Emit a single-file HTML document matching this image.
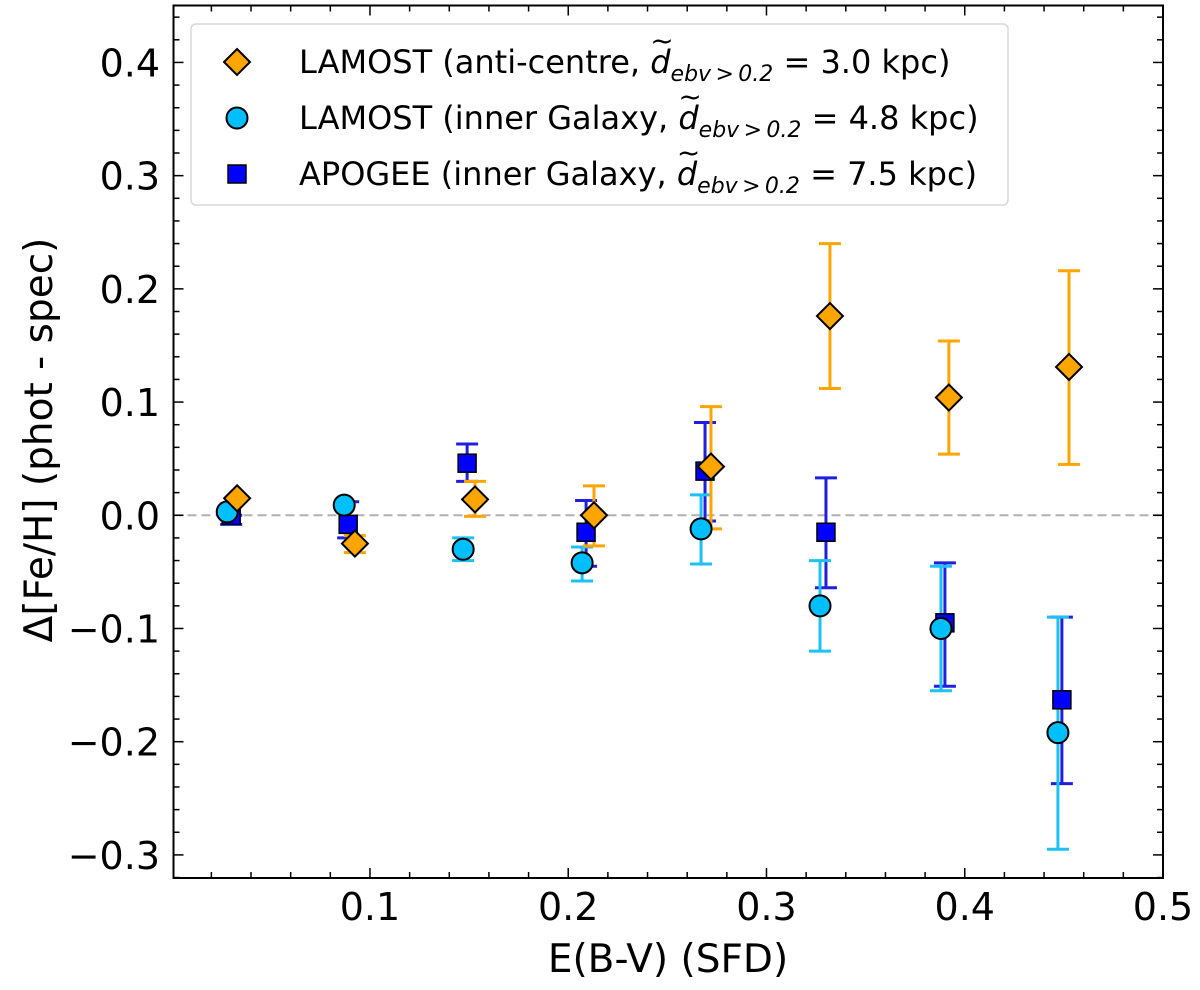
<!DOCTYPE html>
<html><head><meta charset="utf-8"><style>
body{margin:0;background:#fff;}
svg text{font-family:"DejaVu Sans","Liberation Sans",sans-serif;fill:#000;}
</style></head><body>
<svg id="chart" width="1200" height="985" xmlns="http://www.w3.org/2000/svg">
<g id="grid"></g>
<g id="marks"></g>
<g id="axes"></g>
<g id="legend"></g>
</svg>
<script>
const xTicks=[0.1,0.2,0.3,0.4,0.5];
const yTicks=[0.4,0.3,0.2,0.1,0.0,-0.1,-0.2,-0.3];
const yTickLabels=["0.4","0.3","0.2","0.1","0.0","\u22120.1","\u22120.2","\u22120.3"];
// LAMOST anti-centre
const acX=[0.033,0.0924,0.153,0.213,0.272,0.332,0.392,0.4526];
const acY=[0.015,-0.025,0.014,0.0,0.043,0.176,0.104,0.131];
const acLo=[0.015,-0.033,-0.001,-0.027,-0.012,0.112,0.054,0.045];
const acHi=[0.015,-0.018,0.030,0.026,0.096,0.240,0.154,0.216];
// LAMOST inner galaxy
const inX=[0.028,0.087,0.147,0.207,0.267,0.327,0.388,0.447];
const inY=[0.003,0.009,-0.030,-0.042,-0.012,-0.080,-0.100,-0.192];
const inLo=[0.003,0.009,-0.040,-0.058,-0.043,-0.120,-0.155,-0.295];
const inHi=[0.003,0.009,-0.020,-0.028,0.018,-0.040,-0.045,-0.090];
// APOGEE inner galaxy
const apX=[0.030,0.089,0.149,0.209,0.269,0.330,0.390,0.449];
const apY=[0.000,-0.008,0.046,-0.015,0.039,-0.015,-0.095,-0.163];
const apLo=[-0.008,-0.020,0.030,-0.045,-0.005,-0.064,-0.151,-0.237];
const apHi=[0.000,0.012,0.063,0.013,0.082,0.033,-0.042,-0.090];

const L=173.5,R=1163,T=5.5,B=878;
const xmin=0.0009,xmax=0.5,ymin=-0.3204,ymax=0.4503;
const sx=v=>L+(v-xmin)/(xmax-xmin)*(R-L);
const sy=v=>B-(v-ymin)/(ymax-ymin)*(B-T);
const NS="http://www.w3.org/2000/svg";
function mk(tag,attrs,parent){const e=document.createElementNS(NS,tag);for(const k in attrs)e.setAttribute(k,attrs[k]);parent.appendChild(e);return e;}
const axes=document.getElementById('axes'),marks=document.getElementById('marks'),grid=document.getElementById('grid');

const zl=mk('line',{x1:L,x2:R,y1:sy(0),y2:sy(0),stroke:'#b0b0b0','stroke-width':2,'stroke-dasharray':'9,5'},grid);



for(let i=1;i<25;i++){const v=i*0.02;const x=sx(v);const major=i%5===0;const len=major?10:6;
 mk('line',{x1:x,x2:x,y1:B,y2:B-len,stroke:'#000','stroke-width':1.5},axes);
 mk('line',{x1:x,x2:x,y1:T,y2:T+len,stroke:'#000','stroke-width':1.5},axes);}
for(let i=-16;i<=22;i++){const v=i*0.02;const y=sy(v);if(y<T||y>B)continue;const major=i%5===0;const len=major?10:6;
 mk('line',{x1:L,x2:L+len,y1:y,y2:y,stroke:'#000','stroke-width':1.5},axes);
 mk('line',{x1:R,x2:R-len,y1:y,y2:y,stroke:'#000','stroke-width':1.5},axes);}
const frame=mk('rect',{x:L,y:T,width:R-L,height:B-T,fill:'none',stroke:'#000','stroke-width':2},axes);


xTicks.forEach(v=>{const t=mk('text',{x:sx(v),y:920,'font-size':38,'text-anchor':'middle'},axes);t.textContent=v.toFixed(1);
 
 });
yTicks.forEach((v,i)=>{const t=mk('text',{x:160,y:sy(v)+14,'font-size':38,'text-anchor':'end'},axes);t.textContent=yTickLabels[i];
 
 });
const xt=mk('text',{x:668,y:972,'font-size':39,'text-anchor':'middle'},axes);xt.textContent='E(B-V) (SFD)';


const yt=mk('text',{x:0,y:0,'font-size':39,'text-anchor':'middle',transform:'translate(52,440) rotate(-90)'},axes);yt.textContent='\u0394[Fe/H] (phot - spec)';



function errbars(X,Lo,Hi,col,name){X.forEach((v,i)=>{const x=sx(v),y1=sy(Lo[i]),y2=sy(Hi[i]);if(Math.abs(y1-y2)<1)return;
 const g=mk('g',{stroke:col,'stroke-width':3},marks);
 
 
 mk('line',{x1:x,x2:x,y1:y1,y2:y2},g);mk('line',{x1:x-11,x2:x+11,y1:y1,y2:y1},g);mk('line',{x1:x-11,x2:x+11,y1:y2,y2:y2},g);});}
errbars(apX,apLo,apHi,'#1f1fe0','apogee-errorbar');
errbars(inX,inLo,inHi,'#1ec0f5','lamost-inner-errorbar');
errbars(acX,acLo,acHi,'#ffa500','lamost-anticentre-errorbar');
function diamond(x,y,p){return mk('path',{d:`M${x} ${y-13}L${x+13} ${y}L${x} ${y+13}L${x-13} ${y}Z`,fill:'#ffa500',stroke:'#000','stroke-width':2},p);}
function circle(x,y,p){return mk('circle',{cx:x,cy:y,r:10.5,fill:'#00bfff',stroke:'#000','stroke-width':2},p);}
function square(x,y,p){return mk('rect',{x:x-9,y:y-9,width:18,height:18,fill:'#0000ff',stroke:'#000','stroke-width':1.5},p);}
apX.forEach((v,i)=>{const e=square(sx(v),sy(apY[i]),marks);
 
 });
inX.forEach((v,i)=>{const e=circle(sx(v),sy(inY[i]),marks);
 
 });
acX.forEach((v,i)=>{const e=diamond(sx(v),sy(acY[i]),marks);
 
 });

const lg=document.getElementById('legend');
mk('rect',{x:191,y:24,width:817,height:181,rx:5,fill:'#fff','fill-opacity':0.85,stroke:'#d8d8d8','stroke-width':1.5},lg);
const entries=[['LAMOST (anti-centre, ','3.0'],['LAMOST (inner Galaxy, ','4.8'],['APOGEE (inner Galaxy, ','7.5']];
const fns=[diamond,circle,square];
entries.forEach((en,i)=>{const y=62+i*56;const g=mk('g',{},lg);
 
 
 fns[i](237,y,g);
 const t=mk('text',{x:299,y:y+11,'font-size':32},g);
 t.appendChild(document.createTextNode(en[0]));
 const d=mk('tspan',{'font-style':'italic'},t);d.textContent='d';
 const s=mk('tspan',{'font-style':'italic','font-size':22,dy:8},t);s.textContent='ebv\u2009>\u20090.2';
 const r=mk('tspan',{dy:-8},t);r.textContent=' = '+en[1]+' kpc)';
 const tl=mk('text',{'font-size':28,x:0,y:y-12},g);tl.textContent='~';
 const ext=t.getSubStringLength?t.getSubStringLength(0,en[0].length):0;
 tl.setAttribute('x',299+ext);
});
</script>
</body></html>
